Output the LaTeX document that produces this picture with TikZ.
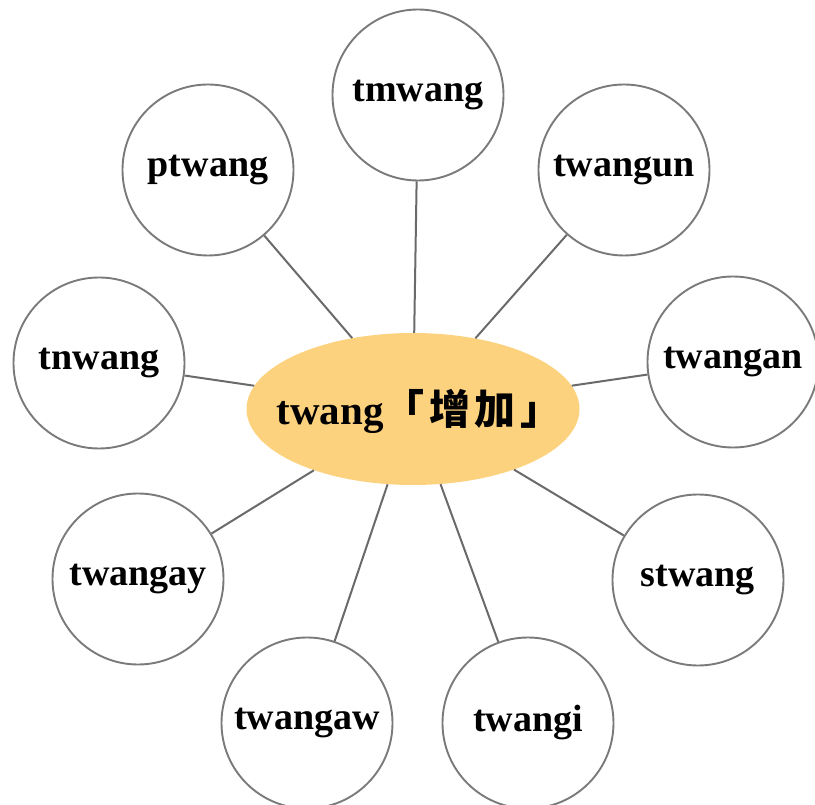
\documentclass[tikz,border=0pt]{standalone}
\usepackage{fontspec}
\setmainfont{Liberation Serif}
\newfontfamily\cjk{Noto Sans CJK TC}
\usetikzlibrary{shapes.geometric}
\definecolor{rim}{HTML}{7A7A7A}
\definecolor{spoke}{HTML}{6A6A6A}
\definecolor{core}{HTML}{FDD27E}
\begin{document}
\begin{tikzpicture}[x=1pt,y=-1pt,c/.style={circle,draw=rim,line width=1.9pt,minimum size=171pt,inner sep=0pt,font=\fontsize{38}{40}\selectfont\bfseries},e/.style={ellipse,fill=core,minimum width=333pt,minimum height=152pt,inner sep=0pt},l/.style={draw=spoke,line width=2pt}]
\useasboundingbox (0,0) rectangle (815,805);
\node[e,label={[font=\fontsize{41}{44}\selectfont\bfseries,xshift=6pt,yshift=-2pt]center:twang{\cjk「\kern5pt 增\kern4pt 加\kern5pt 」}}](root) at (413,409){};
\node[c](tmwang) at (418,95){tmwang};
\node[c](ptwang) at (208,170){ptwang};
\node[c](twangun) at (624,170){twangun};
\node[c](tnwang) at (99,363){tnwang};
\node[c](twangan) at (733,362){twangan};
\node[c](twangay) at (138,579){twangay};
\node[c](stwang) at (698,580){stwang};
\node[c](twangaw) at (307,723){twangaw};
\node[c](twangi) at (528,723){twangi};
\foreach \n in {tmwang,ptwang,twangun,tnwang,twangan,twangay,stwang,twangaw,twangi}
  \draw[l](root)--(\n);
\end{tikzpicture}
\end{document}
